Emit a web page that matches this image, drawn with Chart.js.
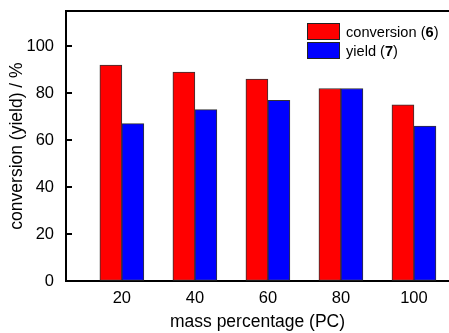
<!DOCTYPE html>
<html>
<head>
<meta charset="utf-8">
<script src="https://cdn.jsdelivr.net/npm/chart.js@4"></script>
<style>
    body { margin: 0; background: #fff; }
    #wrap { position: relative; width: 449px; height: 333px; }
    #legend { position: absolute; left: 307px; top: 22px; font: 14.6px "Liberation Sans", Arial, sans-serif; color: #000; }
    #legend .row { display: flex; align-items: center; height: 19px; }
    #legend .box { width: 31px; height: 15px; border: 1px solid #222; margin-right: 6px; }
</style>
</head>
<body>
<div id="wrap">
    <canvas id="c" width="449" height="333"></canvas>
    <div id="legend">
        <div class="row"><span class="box" style="background:#ff0000"></span><span>conversion (<b>6</b>)</span></div>
        <div class="row"><span class="box" style="background:#0000ff"></span><span>yield (<b>7</b>)</span></div>
    </div>
</div>
<script>
"use strict";

// data
const mass_pct = [20, 40, 60, 80, 100];
const conversion = [92, 89, 86, 82, 75];
const yield_vals = [67, 73, 77, 82, 66];
const y_ticks = [0, 20, 40, 60, 80, 100];

const font_name = '"Liberation Sans", Arial, sans-serif';

// top frame line + inward ticks on the y axis
const frame_plugin = {
    id: "frame",
    afterDraw: function (chart) {
        const ctx = chart.ctx;
        const area = chart.chartArea;
        const ys = chart.scales.y;
        ctx.save();
        ctx.strokeStyle = "#000";
        ctx.lineWidth = 2;
        ctx.beginPath();
        ctx.moveTo(area.left - 1, area.top);
        ctx.lineTo(area.right, area.top);
        y_ticks.forEach(v => {
            const py = Math.round(ys.getPixelForValue(v));
            ctx.moveTo(area.left, py);
            ctx.lineTo(area.left + 6, py);
        });
        ctx.stroke();
        ctx.restore();
    }
};

let ctx = document.getElementById("c").getContext("2d");
window.bar_chart = new Chart(ctx, {
    type: "bar",
    data: {
        datasets: [{
            label: "conversion (6)",
            backgroundColor: "#ff0000",
            borderColor: "#333",
            borderWidth: 1,
            borderSkipped: false,
            data: mass_pct.map((x, i) => ({x: x, y: conversion[i]}))
        },
        {
            label: "yield (7)",
            backgroundColor: "#0000ff",
            borderColor: "#333",
            borderWidth: 1,
            borderSkipped: false,
            data: mass_pct.map((x, i) => ({x: x, y: yield_vals[i]}))
        }]
    },
    options: {
        responsive: false,
        animation: false,
        barThickness: 22,
        layout: { padding: { top: 11, right: 0, left: 0, bottom: 0 } },
        plugins: {
            legend: { display: false },
            tooltip: { enabled: false }
        },
        scales: {
            x: {
                type: "linear",
                offset: false,
                min: 4.7,
                max: 109.6,
                afterBuildTicks: scale => { scale.ticks = mass_pct.map(v => ({value: v})); },
                afterFit: scale => {
                    scale.height = 52;
                    scale.paddingLeft = 0;
                    scale.paddingRight = 0;
                },
                grid: { drawOnChartArea: false, drawTicks: false, offset: false },
                border: { color: "#000", width: 2 },
                ticks: { color: "#000", padding: 8, font: { family: font_name, size: 16.5 } },
                title: {
                    display: true,
                    text: "mass percentage (PC)",
                    color: "#000",
                    padding: { top: 3, bottom: 0 },
                    font: { family: font_name, size: 17.5 }
                }
            },
            y: {
                min: 0,
                max: 115,
                afterBuildTicks: scale => { scale.ticks = y_ticks.map(v => ({value: v})); },
                afterFit: scale => {
                    scale.width = 66;
                    scale.paddingTop = 0;
                    scale.paddingBottom = 0;
                },
                grid: { drawOnChartArea: false, drawTicks: false },
                border: { color: "#000", width: 2 },
                ticks: { color: "#000", padding: 12, font: { family: font_name, size: 16.5 } },
                title: {
                    display: true,
                    text: "conversion (yield) / %",
                    color: "#000",
                    padding: { top: 7, bottom: 0 },
                    font: { family: font_name, size: 17.5 }
                }
            }
        }
    },
    plugins: [frame_plugin]
});
</script>
</body>
</html>
